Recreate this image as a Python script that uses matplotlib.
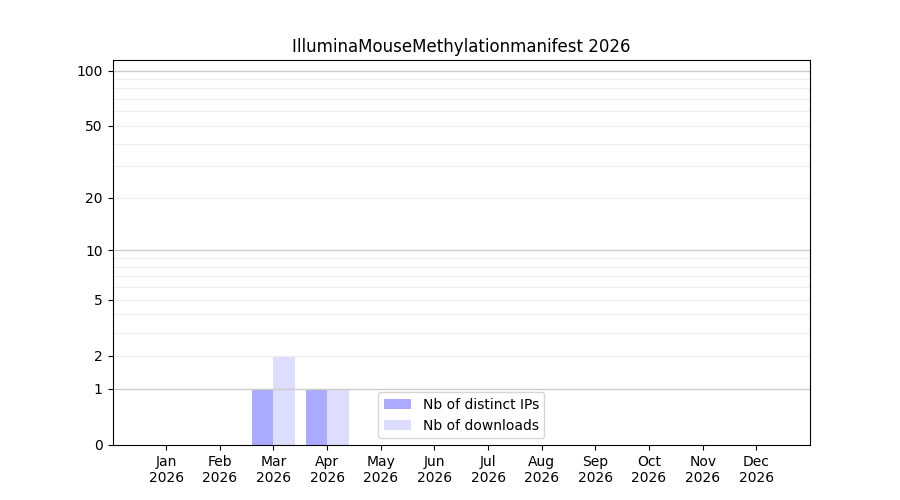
import numpy as np
import matplotlib
matplotlib.use("Agg")
import matplotlib.pyplot as plt
from matplotlib.ticker import NullLocator

# monthly stats
months = ["Jan", "Feb", "Mar", "Apr", "May", "Jun",
          "Jul", "Aug", "Sep", "Oct", "Nov", "Dec"]
year = "2026"
nb_ips = [0, 0, 1, 1, 0, 0, 0, 0, 0, 0, 0, 0]
nb_downloads = [0, 0, 2, 1, 0, 0, 0, 0, 0, 0, 0, 0]
yticks = [0, 1, 2, 5, 10, 20, 50, 100]

x = np.arange(1, len(months) + 1)

fig, ax = plt.subplots(figsize=(9, 5), dpi=100)
ax.set_yscale("function", functions=(lambda y: np.log10(np.maximum(y, 0) + 1),
                                      lambda t: 10 ** t - 1))

ax.bar(x - 0.4, nb_ips, width=0.4, align="edge", color="#aaaaff",
       label="Nb of distinct IPs", zorder=1)
ax.bar(x, nb_downloads, width=0.4, align="edge", color="#ddddff",
       label="Nb of downloads", zorder=1)

# grid lines over the bars but under the spines
for d in [1, 10]:
    for m in range(2, 10):
        ax.axhline(m * d, color="#eeeeee", lw=0.8, zorder=2)
for v in [1, 10, 100]:
    ax.axhline(v, color="#cccccc", lw=1, zorder=2)

ax.set_xlim(0, 13)
ax.set_ylim(0, 114)
ax.set_xticks(x)
ax.set_xticklabels([m + "\n" + year for m in months])
ax.set_yticks(yticks)
ax.set_yticklabels([str(v) for v in yticks])
ax.yaxis.set_minor_locator(NullLocator())
ax.xaxis.set_minor_locator(NullLocator())

ax.set_title("IlluminaMouseMethylationmanifest 2026")
ax.legend(loc="lower center")

plt.savefig("out.png")
